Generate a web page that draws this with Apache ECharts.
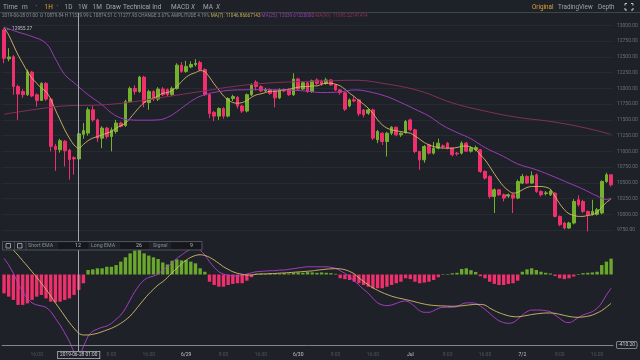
<!DOCTYPE html>
<html><head><meta charset="utf-8">
<script src="https://cdn.jsdelivr.net/npm/echarts@6/dist/echarts.min.js"></script>
<style>html,body{margin:0;padding:0;background:#1e2128;}#c{width:640px;height:360px;}</style>
</head><body><div id="c"></div>
<script>
// hourly candles 2019-06-27 09:00 .. 2019-07-02 19:00
const startHourUTC = Date.UTC(2019, 5, 27, 9);
const candleCount = 131;
const monthNames = ['Jan','Feb','Mar','Apr','May','Jun','Jul','Aug','Sep','Oct','Nov','Dec'];
const cats = [];
for (let i = 0; i < candleCount; i++) {
  const d = new Date(startHourUTC + i * 3600000);
  const p = n => String(n).padStart(2, '0');
  cats.push(d.getUTCFullYear() + '-' + p(d.getUTCMonth() + 1) + '-' + p(d.getUTCDate()) + ' ' + p(d.getUTCHours()) + ':00');
}
const priceTicks = {min: 9750, max: 13000, interval: 250};

const opens = [12930,12470,12505,12030,11950,11900,12260,11900,11810,12080,
11830,11080,11025,11160,11020,10900,10879.84,11270,11290,11660,
11500,11210,11370,11235,11315,11450,11410,11790,12000,11950,
12180,11775,11950,11830,11990,11980,11900,12000,12370,12270,
12340,12380,12410,12300,11900,11620,11560,11680,11560,11840,
11860,11720,11640,11900,12100,12030,11960,11980,11960,11850,
11980,11980,11900,12150,11990,12090,11950,12135,12120,12080,
12135,12056,11976,11930,11722,11820,11818,11659,11606,11659,
11183,11289,11156,11289,11384,11262,11300,11500,11342,10997,
10865,11103,10971,11051,11088,11130,11051,10971,10971,11130,
11003,11030,11024,10680,10601,10283,10389,10310,10290,10310,
10257,10495,10601,10495,10627,10362,10330,10310,10336,9966,
9861,9781,9861,10231,10204,10045,10000,10000,10020,10521,
10627];
const closes = [12480,12500,12030,11910,11900,12265,11880,11810,12080,11830,
11080,11030,11170,11010,10870,10880,11277.93,11330,11660,11500,
11210,11370,11235,11340,11450,11400,11790,12000,11950,12180,
11775,11950,11830,11990,11900,11900,12000,12370,12270,12350,
12380,12400,12300,11900,11600,11560,11680,11560,11840,11870,
11720,11640,11900,12050,12030,11960,11980,11920,11850,11980,
11960,11900,12150,11990,12090,11950,12120,12080,12070,12135,
12056,11976,11934,11670,11818,11800,11596,11580,11659,11210,
11315,11156,11289,11384,11262,11289,11473,11342,10997,10865,
11077,10971,11051,11130,11070,11051,10945,10960,11130,11003,
11051,11060,10680,10575,10283,10389,10310,10257,10310,10257,
10521,10601,10495,10612,10362,10310,10340,10370,9966,9834,
9781,9861,10204,10150,10045,9993,10045,10072,10521,10627,
10467.25];
const lows = [12400,12430,11900,11500,11850,11880,11860,11710,11800,11800,
11000,10690,10980,10760,10550,10630,10874.51,11200,11250,11470,
11150,11050,11200,11000,11280,11380,11390,11770,11900,11930,
11700,11660,11800,11800,11880,11870,11880,11980,12250,12250,
12320,12350,12280,11880,11530,11480,11500,11520,11540,11800,
11680,11610,11620,11880,11970,11940,11940,11900,11700,11830,
11940,11880,11880,11970,11970,11930,11930,12050,12040,12060,
12040,11960,11900,11640,11700,11780,11560,11540,11580,11180,
11130,11100,10918,11260,11240,11230,11280,11320,10970,10707,
10820,10950,10950,11030,11050,11030,10920,10930,10950,10990,
10980,11000,10660,10550,10250,10020,10290,10204,10260,10020,
10240,10480,10480,10480,10340,10280,10300,10290,9950,9810,
9760,9770,9840,10120,10020,9727,9980,9980,10000,10500,
10440];
const highs = [12955.27,12640,12530,12060,11990,12300,12280,11920,12100,12100,
11850,11120,11200,11180,11040,10920,11329.99,11450,11700,11720,
11520,11400,11390,11380,11500,11470,11820,12030,12050,12200,
12200,11980,11970,12020,12020,12000,12030,12400,12420,12440,
12430,12465,12440,12320,11920,11640,11700,11700,11860,11900,
11880,11740,11920,12080,12130,12050,12010,12000,11980,12000,
12000,12000,12240,12170,12110,12110,12140,12160,12140,12170,
12150,12070,11990,11950,11840,11870,11830,11670,11680,11680,
11340,11300,11310,11400,11390,11300,11500,11520,11360,11010,
11100,11120,11150,11200,11110,11150,11060,10990,11160,11150,
11080,11090,11040,10700,10620,10410,10400,10330,10330,10330,
10550,10640,10620,10680,10650,10380,10370,10400,10350,9980,
9880,9880,10240,10300,10230,10060,10230,10100,10540,10660,
10640];

const ma7 = [12971,12849,12690,12532,12400,12267,12162,12082,12003,11950,
11829,11659,11500,11342,11210,11100,11047,11110,11170,11210,
11236,11262,11289,11315,11369,11405,11448,11527,11616,11702,
11775,11818,11845,11881,11924,11934,11965,12029,12108,12178,
12225,12251,12283,12267,12178,12072,11976,11881,11818,11775,
11765,11775,11807,11860,11897,11913,11934,11955,11955,11965,
11976,11987,12003,12019,12029,12029,12040,12040,12067,12082,
12082,12067,12040,11987,11924,11870,11807,11749,11686,11606,
11500,11421,11369,11342,11326,11315,11299,11289,11246,11194,
11140,11103,11077,11061,11051,11051,11051,11061,11080,11085,
11065,11030,10945,10865,10759,10643,10537,10442,10378,10336,
10347,10389,10426,10442,10442,10442,10431,10400,10283,10167,
10072,10008,9982,9966,9966,9982,9993,10029,10114,10188,
10246];
const ma25Idx = [0,3,6,9,11,13,15,17,19,21,23,25,27,30,33,35,37,39,41,43,46,50,55,60,64,68,72,75,78,82,85,88,91,94,97,100,103,107,110,114,118,121,124,127,129,130];
const ma25Val = [12975,12895,12825,12717,12470,12220,12090,11960,11845,11740,11610,11530,11500,11495,11500,11540,11630,11740,11840,11900,11950,11976,11980,11976,11962,11935,11945,11976,11950,11870,11775,11670,11560,11410,11300,11200,11060,10918,10800,10707,10590,10495,10400,10290,10235,10257];
const ma99Idx = [0,6,13,21,28,35,42,49,56,63,69,75,82,89,96,103,110,117,124,130];
const ma99Val = [11590,11659,11722,11738,11791,11870,11950,12029,12082,12108,12120,12130,12070,11960,11770,11640,11540,11475,11380,11270];

const macdHist = [-110,-129,-148,-177,-177,-168,-148,-129,-119,-139,-158,-162,-158,-148,-139,-119,-90,-51,
26,30,36,36,45,45,55,75,100,123,139,143,123,110,100,90,
70,58,80,88,82,84,75,65,36,16,-42,-61,-71,-71,-61,-55,-51,-51,-36,-16,
4,5,3,6,4,5,8,6,10,12,10,14,12,10,12,10,8,4,
-22,-27,-32,-42,-51,-61,-71,-80,-80,-80,-71,-61,-51,-42,-22,-27,-42,-51,-47,-42,-32,-16,3,3,7,10,32,36,
25,15,-10,-22,-42,-55,-61,-61,-55,-51,-36,16,30,36,26,16,10,6,-9,
-22,-27,-22,-12,3,8,10,12,16,55,75,92.1];
const dif = [94,55,7,-51,-100,-139,-165,-177,-183,-191,-216,-255,-294,-340,-390,-450,-480,
-420,-360,-330,-318,-307,-300,-284,-261,-236,-197,-148,-100,-61,-32,-17,-9,3,
26,45,69,94,113,133,146,152,142,113,75,42,16,3,-5,-9,-9,-5,3,10,16,18,20,22,22,26,26,30,34,38,42,45,45,
45,45,45,42,36,22,7,-13,-36,-61,-86,-109,-139,-165,-177,-181,-177,-168,-158,-154,-165,-187,-211,-220,-220,-211,-197,-191,-191,-191,-187,-173,-165,
-165,-168,-183,-203,-226,-250,-269,-280,-284,-280,-261,-236,-216,-207,-207,-207,-211,-216,-236,-255,-275,-280,-269,-250,-236,-226,-216,-197,-165,-119,-80];
const dea = [185,175,142,113,80,49,16,-17,-51,-86,-125,-165,-203,-242,-280,-313,-342,-352,-352,-348,-342,-333,-323,-313,-300,-284,-265,-242,-211,-177,-144,-113,-86,-61,
-42,-17,10,36,61,84,100,111,115,111,100,84,65,45,30,16,7,1,-3,-3,2,3,4,5,6,8,9,11,13,15,17,19,21,
25,28,31,33,34,33,28,18,4,-20,-40,-60,-78,-92,-105,-116,-126,-134,-140,-146,-152,-159,-166,-172,-177,-180,-182,-183,-184,-185,-184,-182,-179,
-176,-174,-174,-178,-195,-210,-222,-232,-240,-245,-246,-243,-238,-233,-229,-226,-224,-224,-226,-232,-238,-244,-248,-249,-247,-243,-236,-224,-210,-190,-168];

const crossIdx = 16;
const highMark = {idx: 0, value: 12955.27};
const lowMark = {idx: 125, value: 9727};
const lastPrice = 10467.25;
const macdLast = 92.10, macdMin = -410.20;

const UP = '#74b12f', DOWN = '#f0306d', BG = '#1e2128';
const candleData = opens.map((o, i) => [o, closes[i], lows[i], highs[i]]);
const pairs = (ix, vs) => ix.map((x, k) => [x, vs[k]]);

const chart = echarts.init(document.getElementById('c'), null, {renderer: 'canvas'});
const GL = 1.7, GW = 611.7;
const fnt = 'Roboto';
function txt(x, y, text, fill, size, extra) {
  return Object.assign({type: 'text', x: x, y: y, z: 100,
    style: {text: text, fill: fill, fontSize: size, fontFamily: fnt, verticalAlign: 'middle', align: 'left'}}, extra || {});
}
function boxLabel(text, border, color) {
  return {show: true, position: 'end', distance: 3.5, formatter: text, color: color || '#c9cdd3',
    fontSize: 5, fontFamily: fnt, borderColor: border, borderWidth: 0.8, borderRadius: 1.5,
    backgroundColor: BG, padding: [1, 1.5, 0.5, 1.5]};
}
const info = cats[crossIdx] + '  O ' + opens[crossIdx].toFixed(2) + ' H ' + highs[crossIdx].toFixed(2) +
  ' L ' + lows[crossIdx].toFixed(2) + ' C ' + closes[crossIdx].toFixed(2) + ' CHANGE 3.67% AMPLITUDE 4.19% ';

const option = {
  backgroundColor: BG,
  animation: false,
  textStyle: {fontFamily: fnt},
  grid: [
    {left: GL, width: GW, top: 25.5, height: 204.5, containLabel: false, outerBoundsMode: 'none'},
    {left: GL, width: GW, top: 242, height: 103, containLabel: false, outerBoundsMode: 'none'},
    {left: GL, width: GW, top: 12, height: 343, containLabel: false, outerBoundsMode: 'none'}
  ],
  xAxis: [
    {type: 'category', gridIndex: 0, data: cats, boundaryGap: true, axisLine: {show: false}, axisTick: {show: false}, axisLabel: {show: false}, splitLine: {show: false}},
    {type: 'category', gridIndex: 1, data: cats, boundaryGap: true, axisLine: {show: false}, axisTick: {show: false}, splitLine: {show: false},
      axisLabel: {show: true, margin: 7, fontSize: 5,
        interval: function (i, v) { return +v.slice(11, 13) % 8 === 0; },
        formatter: function (v) {
          const h = +v.slice(11, 13);
          if (h === 0) { const m = +v.slice(5, 7), d = +v.slice(8, 10); return '{d|' + (d === 1 ? monthNames[m - 1] : m + '/' + d) + '}'; }
          return '{h|' + h + ':00}';
        },
        rich: {d: {color: '#c3c7cd', fontSize: 5, fontFamily: fnt}, h: {color: '#4f545c', fontSize: 5, fontFamily: fnt}}}},
    {type: 'category', gridIndex: 2, data: cats, boundaryGap: true, show: false}
  ],
  yAxis: [
    {type: 'value', gridIndex: 0, position: 'right', min: priceTicks.min, max: priceTicks.max, interval: priceTicks.interval,
      axisLine: {show: false}, axisTick: {show: false},
      axisLabel: {color: '#6a6f78', fontSize: 5, margin: 3.5, formatter: v => v.toFixed(2)},
      splitLine: {show: true, lineStyle: {color: '#262a32', width: 1}}},
    {type: 'value', gridIndex: 1, min: macdMin, max: 189.1, axisLine: {show: false}, axisTick: {show: false}, axisLabel: {show: false}, splitLine: {show: false}},
    {type: 'value', gridIndex: 2, min: 0, max: 1, show: false}
  ],
  series: [
    {type: 'candlestick', xAxisIndex: 0, yAxisIndex: 0, data: candleData, barWidth: 3.2, clip: false,
      itemStyle: {color: UP, color0: DOWN, borderColor: UP, borderColor0: DOWN, borderWidth: 1},
      markPoint: {symbol: 'circle', symbolSize: 0, silent: true, data: [
        {coord: [highMark.idx, highMark.value], label: {show: true, position: 'right', distance: 2, formatter: '← ' + highMark.value.toFixed(2), color: '#c0c4ca', fontSize: 4.8}},
        {coord: [lowMark.idx, lowMark.value], label: {show: true, position: 'left', distance: 1, formatter: lowMark.value.toFixed(2) + ' —→', color: '#c0c4ca', fontSize: 4.8}}
      ]},
      markLine: {symbol: 'none', silent: true, data: [{yAxis: lastPrice}], lineStyle: {opacity: 0},
        label: boxLabel(lastPrice.toFixed(2), DOWN, '#d4d7dc')}
    },
    {type: 'line', name: 'MA7', xAxisIndex: 0, yAxisIndex: 0, data: ma7, smooth: 0.3, showSymbol: false, lineStyle: {color: '#d4bb66', width: 0.9}, z: 3},
    {type: 'line', name: 'MA25', xAxisIndex: 0, yAxisIndex: 0, data: pairs(ma25Idx, ma25Val), smooth: 0.4, showSymbol: false, lineStyle: {color: '#9b3bb9', width: 1}, z: 3},
    {type: 'line', name: 'MA99', xAxisIndex: 0, yAxisIndex: 0, data: pairs(ma99Idx, ma99Val), smooth: 0.4, showSymbol: false, lineStyle: {color: '#843059', width: 1}, z: 3},
    {type: 'bar', xAxisIndex: 1, yAxisIndex: 1, data: macdHist, barWidth: '72%',
      itemStyle: {color: p => (p.value >= 0 ? '#6aa82c' : DOWN)},
      markLine: {symbol: 'none', silent: true, data: [
        {yAxis: 0, lineStyle: {opacity: 0}, label: {show: true, position: 'end', distance: 5, formatter: '0.00', color: '#8a8f97', fontSize: 5}},
        {yAxis: macdLast, lineStyle: {opacity: 0}, label: boxLabel(macdLast.toFixed(2), '#9a9fa7')},
        {yAxis: macdMin, lineStyle: {color: '#80868f', width: 1, type: 'solid', opacity: 1}, label: boxLabel(macdMin.toFixed(2), '#9a9fa7')}
      ]}},
    {type: 'line', name: 'DIF', xAxisIndex: 1, yAxisIndex: 1, data: dif, smooth: 0.3, showSymbol: false, clip: false, lineStyle: {color: '#b13fd1', width: 0.9}, z: 3},
    {type: 'line', name: 'DEA', xAxisIndex: 1, yAxisIndex: 1, data: dea, smooth: 0.3, showSymbol: false, lineStyle: {color: '#d6c06c', width: 0.9}, z: 3},
    {type: 'line', xAxisIndex: 2, yAxisIndex: 2, data: cats.map(() => null), showSymbol: false, z: 10,
      markLine: {symbol: 'none', silent: true, data: [{xAxis: cats[crossIdx]}], lineStyle: {color: '#a3a7ad', width: 1, type: 'solid'}, label: {show: false}},
      markPoint: {symbol: 'circle', symbolSize: 0, silent: true, data: [{coord: [cats[crossIdx], 0],
        label: {show: true, position: 'inside', formatter: cats[crossIdx], color: '#d0d3d8', fontSize: 4.8,
          backgroundColor: BG, borderColor: '#b8bcc2', borderWidth: 0.8, padding: [1, 2, 0.5, 2]}}]}}
  ],
  graphic: [
    {type: 'line', z: 100, shape: {x1: 0, y1: 12.5, x2: 640, y2: 12.5}, style: {stroke: '#3d4842', lineWidth: 1}},
    txt(3, 7, 'Time', '#a3a7ae', 6.5),
    txt(22, 7, 'm', '#a3a7ae', 6.5),
    txt(35.5, 7, '•', '#6a6f77', 5),
    txt(44.5, 7, '1H', '#dba23a', 6.5),
    txt(56.5, 7, '•', '#6a6f77', 5),
    txt(64.5, 7, '1D', '#a3a7ae', 6.5),
    txt(78, 7, '1W', '#a3a7ae', 6.5),
    txt(92.5, 7, '1M', '#a3a7ae', 6.5),
    txt(106, 7, 'Draw', '#a3a7ae', 6.5),
    txt(123, 7, 'Technical Ind', '#a3a7ae', 6.5),
    txt(171, 7, 'MACD', '#a3a7ae', 6.5),
    txt(191, 7, 'X', '#a3a7ae', 6.5, {style: {text: 'X', fill: '#a3a7ae', fontSize: 6.5, fontStyle: 'italic', fontFamily: fnt, verticalAlign: 'middle'}}),
    txt(203, 7, 'MA', '#a3a7ae', 6.5),
    txt(216, 7, 'X', '#a3a7ae', 6.5, {style: {text: 'X', fill: '#a3a7ae', fontSize: 6.5, fontStyle: 'italic', fontFamily: fnt, verticalAlign: 'middle'}}),
    txt(532, 7, 'Original', '#d9a43a', 6.3),
    txt(558, 7, 'TradingView', '#9ea2a9', 6.3),
    txt(598, 7, 'Depth', '#9ea2a9', 6.3),
    {type: 'polyline', z: 100, shape: {points: [[625, 5.5], [625, 3.5], [627, 3.5]]}, style: {stroke: '#c8ccd2', lineWidth: 1, fill: null}},
    {type: 'polyline', z: 100, shape: {points: [[631, 3.5], [633, 3.5], [633, 5.5]]}, style: {stroke: '#c8ccd2', lineWidth: 1, fill: null}},
    {type: 'polyline', z: 100, shape: {points: [[625, 8], [625, 10], [627, 10]]}, style: {stroke: '#c8ccd2', lineWidth: 1, fill: null}},
    {type: 'polyline', z: 100, shape: {points: [[631, 10], [633, 10], [633, 8]]}, style: {stroke: '#c8ccd2', lineWidth: 1, fill: null}},
    {type: 'text', x: 2, y: 15.8, z: 100, style: {
      text: '{g|' + info + '}{y|MA(7): 11046.86667143 }{p|MA(25): 12039.61320000 }{r|MA(99): 11695.52141414}',
      verticalAlign: 'middle', fontFamily: fnt, fontSize: 4.6,
      rich: {g: {fill: '#8b9098', fontSize: 4.6, fontFamily: fnt}, y: {fill: '#c9b255', fontSize: 4.6, fontFamily: fnt},
        p: {fill: '#9a3db8', fontSize: 4.6, fontFamily: fnt}, r: {fill: '#92305f', fontSize: 4.6, fontFamily: fnt}}}},
    // MACD parameter bar
    {type: 'rect', z: 100, shape: {x: 2.5, y: 241.5, width: 199.5, height: 8.5}, style: {fill: BG, stroke: '#5b6068', lineWidth: 0.8}},
    {type: 'rect', z: 101, shape: {x: 6, y: 243.5, width: 4.5, height: 4.5}, style: {fill: null, stroke: '#b0b4ba', lineWidth: 0.8}},
    {type: 'rect', z: 101, shape: {x: 17.5, y: 243.5, width: 4.5, height: 4.5}, style: {fill: null, stroke: '#b0b4ba', lineWidth: 0.8}},
    {type: 'line', z: 101, shape: {x1: 14.5, y1: 241.5, x2: 14.5, y2: 250}, style: {stroke: '#4a4f57', lineWidth: 0.8}},
    {type: 'line', z: 101, shape: {x1: 26, y1: 241.5, x2: 26, y2: 250}, style: {stroke: '#4a4f57', lineWidth: 0.8}},
    {type: 'rect', z: 101, shape: {x: 58, y: 242.5, width: 30, height: 6.5}, style: {fill: '#15171b'}},
    {type: 'rect', z: 101, shape: {x: 120, y: 242.5, width: 29, height: 6.5}, style: {fill: '#15171b'}},
    {type: 'rect', z: 101, shape: {x: 171, y: 242.5, width: 30, height: 6.5}, style: {fill: '#15171b'}},
    Object.assign(txt(28, 246, 'Short EMA', '#868b93', 5.3), {z: 102}),
    Object.assign(txt(75, 246, '12', '#b5b9bf', 5.3), {z: 102}),
    Object.assign(txt(91, 246, 'Long EMA', '#868b93', 5.3), {z: 102}),
    Object.assign(txt(136, 246, '26', '#b5b9bf', 5.3), {z: 102}),
    Object.assign(txt(153, 246, 'Signal', '#868b93', 5.3), {z: 102}),
    Object.assign(txt(190, 246, '9', '#b5b9bf', 5.3), {z: 102})
  ]
};
chart.setOption(option);
</script>
</body></html>
